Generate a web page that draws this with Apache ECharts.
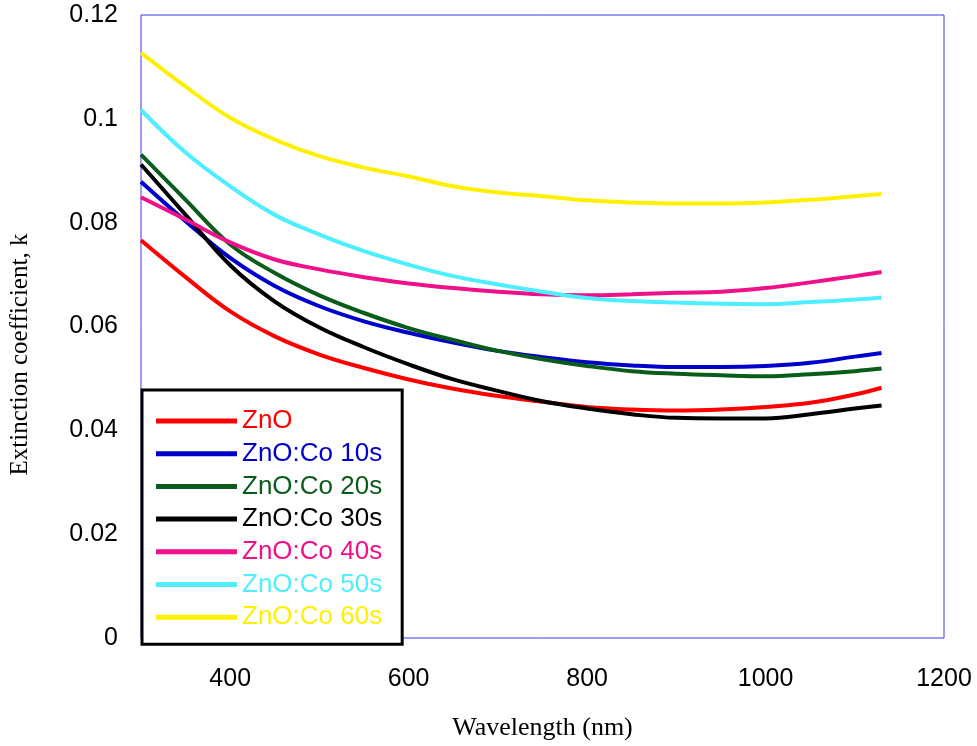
<!DOCTYPE html>
<html><head><meta charset="utf-8">
<script src="https://cdn.jsdelivr.net/npm/echarts@6/dist/echarts.min.js"></script>
<style>html,body{margin:0;padding:0;background:#fff}#c{width:977px;height:746px}</style>
</head><body><div id="c"></div>
<script>
const wavelengths = [300,350,400,450,500,550,600,650,700,750,800,850,900,950,1000,1050,1100,1130];
const seriesNames = ['ZnO','ZnO:Co 10s','ZnO:Co 20s','ZnO:Co 30s','ZnO:Co 40s','ZnO:Co 50s','ZnO:Co 60s'];
const kZnO   = [0.0766,0.0695,0.0629,0.0581,0.0546,0.0520,0.0498,0.0480,0.0466,0.0455,0.0445,0.0440,0.0438,0.0440,0.0445,0.0453,0.0469,0.0482];
const kCo10s = [0.0879,0.0803,0.0732,0.0678,0.0639,0.0610,0.0588,0.0569,0.0553,0.0541,0.0531,0.0525,0.0522,0.0522,0.0524,0.0530,0.0542,0.0549];
const kCo20s = [0.0931,0.0844,0.0758,0.0703,0.0660,0.0626,0.0597,0.0574,0.0553,0.0537,0.0524,0.0514,0.0509,0.0506,0.0504,0.0508,0.0514,0.0519];
const kCo30s = [0.0912,0.0815,0.0718,0.0648,0.0598,0.0560,0.0527,0.0498,0.0476,0.0456,0.0442,0.0431,0.0424,0.0423,0.0423,0.0431,0.0442,0.0448];
const kCo40s = [0.0849,0.0806,0.0762,0.0729,0.0710,0.0695,0.0683,0.0674,0.0667,0.0662,0.0660,0.0662,0.0665,0.0667,0.0674,0.0685,0.0697,0.0705];
const kCo50s = [0.1017,0.0935,0.0870,0.0815,0.0777,0.0745,0.0719,0.0697,0.0681,0.0667,0.0655,0.0649,0.0646,0.0644,0.0643,0.0647,0.0652,0.0656];
const kCo60s = [0.1127,0.1062,0.1002,0.0960,0.0928,0.0906,0.0889,0.0870,0.0858,0.0851,0.0843,0.0839,0.0837,0.0837,0.0839,0.0844,0.0851,0.0855];
const colors = ['#ff0000','#0000cc','#0a5c1a','#000000','#f0108a','#4deefe','#fff000'];
const allK = [kZnO,kCo10s,kCo20s,kCo30s,kCo40s,kCo50s,kCo60s];

const chart = echarts.init(document.getElementById('c'));
chart.setOption({
  backgroundColor:'#fff',
  animation:false,
  grid:{left:140,right:33,top:15,bottom:107,show:true,borderColor:'#3a3aee',borderWidth:1,backgroundColor:'transparent'},
  xAxis:{type:'value',min:300,max:1200,interval:100,
    name:'Wavelength (nm)',nameLocation:'middle',nameGap:77,
    nameTextStyle:{fontFamily:'Liberation Serif',fontSize:26,color:'#000'},
    axisLine:{show:false},axisTick:{show:false},splitLine:{show:false},
    axisLabel:{margin:29,fontFamily:'Liberation Sans',fontSize:25,color:'#000',
      formatter:v=> (v%200===0 ? String(v) : '')}},
  yAxis:{type:'value',min:0,max:0.12,interval:0.02,
    name:'Extinction coefficient, k',nameLocation:'middle',nameGap:108,
    nameTextStyle:{fontFamily:'Liberation Serif',fontSize:25,color:'#000',padding:[0,56,0,0]},
    axisLine:{show:false},axisTick:{show:false},splitLine:{show:false},
    axisLabel:{margin:23,fontFamily:'Liberation Sans',fontSize:25,color:'#000'}},
  legend:{orient:'vertical',left:142,top:390,icon:'rect',itemWidth:81,itemHeight:5,itemGap:6.7,
    padding:[18,20,14,14],backgroundColor:'#fff',borderColor:'#000',borderWidth:3,borderRadius:0,
    textStyle:{fontFamily:'Liberation Sans',fontSize:26,lineHeight:26},
    data:seriesNames.map((n,i)=>({name:n,textStyle:{color:colors[i]},itemStyle:{color:colors[i]}}))},
  series:seriesNames.map((n,i)=>({
    name:n,type:'line',smooth:0.4,symbol:'none',
    data:wavelengths.map((w,j)=>[w,allK[i][j]]),
    lineStyle:{color:colors[i],width:4},itemStyle:{color:colors[i]}
  }))
});
</script></body></html>
